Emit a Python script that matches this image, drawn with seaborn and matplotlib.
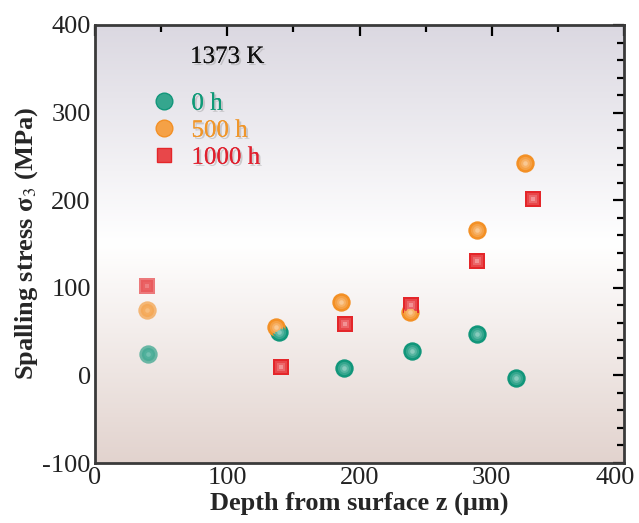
import numpy as np
import pandas as pd
import matplotlib
matplotlib.use('Agg')
import matplotlib.pyplot as plt
import matplotlib.patheffects as pe
import matplotlib.transforms as mtransforms
from matplotlib.colors import LinearSegmentedColormap, to_rgb
from matplotlib.lines import Line2D
from matplotlib.ticker import MultipleLocator
import seaborn as sns

#data
series = ['0 h', '500 h', '1000 h']
depth_0h = [40, 139, 188, 240, 289, 318]
stress_0h = [25, 49, 8, 28, 47, -3]
depth_500h = [39, 137, 186, 238, 289, 325]
stress_500h = [75, 55, 84, 72, 166, 242]
depth_1000h = [39, 141, 189, 239, 289, 331]
stress_1000h = [102, 10, 59, 80, 131, 201]

colors = {'0 h': '#11967a', '500 h': '#f39025', '1000 h': '#e4262a'}
text_colors = {'0 h': '#0f9a78', '500 h': '#f0962a', '1000 h': '#e0202e'}
markers = {'0 h': 'o', '500 h': 'o', '1000 h': 's'}
sizes = {'0 h': 175, '500 h': 175, '1000 h': 135}

df = pd.concat([
    pd.DataFrame({'depth': depth_0h, 'stress': stress_0h, 'time': '0 h'}),
    pd.DataFrame({'depth': depth_500h, 'stress': stress_500h, 'time': '500 h'}),
    pd.DataFrame({'depth': depth_1000h, 'stress': stress_1000h, 'time': '1000 h'}),
])


def mix(c, amount):
    r = np.array(to_rgb(c))
    return tuple(r + (1 - r) * amount)


sns.set_theme(style='white')
plt.rcParams['font.family'] = ['Liberation Serif', 'DejaVu Serif']
plt.rcParams['mathtext.fontset'] = 'stix'
plt.rcParams['axes.unicode_minus'] = False

fig = plt.figure(figsize=(6.39, 5.23), dpi=100)
ax = fig.add_axes([0.1487, 0.1147, 0.8278, 0.8375])

#background gradient
cmap = LinearSegmentedColormap.from_list('bg', [(0, '#e2d3ce'), (0.5, '#ffffff'), (1, '#dbd8e1')])
grad = np.linspace(0, 1, 256).reshape(-1, 1)
ax.imshow(grad, extent=[0, 400, -100, 400], origin='lower', aspect='auto', cmap=cmap, zorder=0)

#shaded markers: stacked layers lighter toward the centre
layers = [(1.0, 0.0), (0.72, 0.15), (0.48, 0.3), (0.25, 0.5)]
for t in series:
    sub = df[df['time'] == t]
    for near, a in [(True, 0.6), (False, 1.0)]:
        part = sub[(sub['depth'] < 60) == near]
        for k, (f, m) in enumerate(layers):
            sns.scatterplot(data=part, x='depth', y='stress', color=mix(colors[t], m), marker=markers[t],
                            s=sizes[t] * f ** 2, alpha=a, linewidth=0, ax=ax, zorder=3 + k)

ax.set_xlim(0, 400)
ax.set_ylim(-100, 400)
ax.set_xticks([0, 100, 200, 300, 400])
ax.xaxis.set_minor_locator(MultipleLocator(50))
ax.set_yticks([-100, 0, 100, 200, 300, 400])
ax.yaxis.set_minor_locator(MultipleLocator(20))
ax.tick_params(which='both', direction='in', top=True, right=True, colors='black', width=1.6)
ax.tick_params(which='major', length=8, labelsize=19, pad=3)
ax.tick_params(which='minor', length=5)
ax.tick_params(axis='both', labelcolor='#222222')
for sp in ax.spines.values():
    sp.set_color('#3a3a3a')
    sp.set_linewidth(2)

#the 400 label sits a bit left so it stays inside the figure
for lab in ax.get_xticklabels():
    if lab.get_text() == '400':
        lab.set_transform(lab.get_transform() + mtransforms.ScaledTranslation(-6 / 72, 0, fig.dpi_scale_trans))

shadow = [pe.withSimplePatchShadow(offset=(1.5, -1.5), shadow_rgbFace='#888888', alpha=0.35), pe.Normal()]

ax.set_xlabel('Depth from surface z (μm)', fontsize=19, fontweight='bold', labelpad=2)
ax.set_ylabel('Spalling stress σ$_3$ (MPa)', fontsize=19, fontweight='bold', labelpad=2)

ax.text(0.25, 0.927, '1373 K', transform=ax.transAxes, fontsize=18, ha='center', va='center',
        color='#111111', path_effects=shadow)

handles = [Line2D([], [], linestyle='none', marker=markers[t], markersize=12 if t != '1000 h' else 10.5,
                  markerfacecolor=mix(colors[t], 0.15), markeredgecolor=colors[t]) for t in series]
leg = ax.legend(handles, series, loc='upper left', bbox_to_anchor=(0.083, 0.875), frameon=False,
                fontsize=18, handlelength=1.0, handletextpad=0.6, labelspacing=0.18, borderpad=0)
for txt, t in zip(leg.get_texts(), series):
    txt.set_color(text_colors[t])
    txt.set_path_effects(shadow)

fig.savefig('out.png', dpi=100)
